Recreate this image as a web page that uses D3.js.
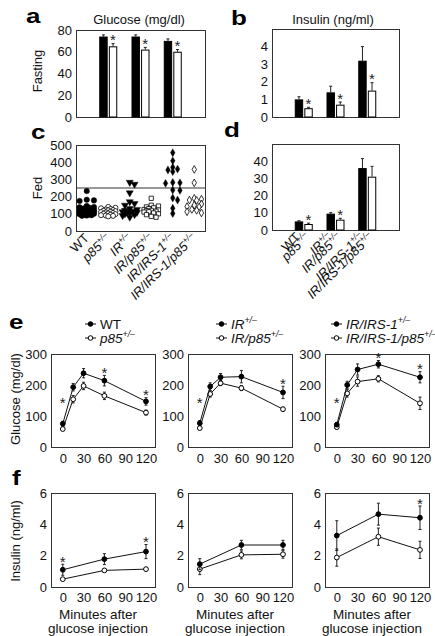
<!DOCTYPE html>
<html><head><meta charset="utf-8">
<script src="https://cdn.jsdelivr.net/npm/d3@7"></script>
<style>
body{margin:0;background:#fff;}
svg{display:block;font-family:"Liberation Sans",Arial,Helvetica,sans-serif;}
</style></head><body>
<svg id="chart" width="435" height="636"></svg>
<script>
// ---------------- DATA ----------------
const barGroups = ["WT", "IR", "IR/IRS-1"];
// a: fasting glucose (mg/dl)
const fastGlucoseDark = [74, 74, 70];
const fastGlucoseDarkErr = [1.5, 1.5, 1.8];
const fastGlucoseLight = [65, 62, 60];
const fastGlucoseLightErr = [2.5, 2, 2];
const fastGlucoseStars = [true, true, true];
const glucoseFastTicks = [0, 20, 40, 60, 80];
// b: fasting insulin (ng/ml)
const fastInsulinDark = [1.0, 1.4, 3.2];
const fastInsulinDarkErr = [0.15, 0.35, 0.8];
const fastInsulinLight = [0.5, 0.7, 1.5];
const fastInsulinLightErr = [0.05, 0.15, 0.45];
const fastInsulinStars = [true, true, true];
const insulinFastTicks = [0, 1, 2, 3, 4];
// c: fed glucose, individual animals (mg/dl)
const genotypeBase = ["WT", "p85", "IR", "IR/p85", "IR/IRS-1", "IR/IRS-1/p85"];
const genotypeSup = ["", "+/–", "+/–", "+/–", "+/–", "+/–"];
const fedGlucoseWT = [232, 182, 178, 175, 145, 140, 138, 135, 132, 130, 128, 126, 124, 122, 120, 118, 116, 115, 113, 112, 110, 108, 106, 105, 103, 102, 100, 98, 96, 94, 92, 90, 88];
const fedGlucoseP85 = [140, 135, 132, 128, 125, 122, 120, 118, 115, 112, 110, 108, 105, 102, 100, 98, 95, 92, 90, 88, 85];
const fedGlucoseIR = [283, 272, 222, 170, 160, 150, 130, 125, 120, 115, 112, 110, 108, 105, 100, 95, 90, 80];
const fedGlucoseIRp85 = [190, 150, 145, 140, 135, 130, 125, 122, 120, 118, 115, 112, 110, 105, 100, 95, 85, 80];
const fedGlucoseIRS = [455, 408, 370, 360, 355, 345, 282, 280, 277, 238, 236, 192, 180, 132, 102];
const fedGlucoseIRSp85 = [358, 280, 190, 185, 180, 178, 157, 150, 142, 140, 125, 120, 112, 105];
const fedThreshold = 250;
const glucoseFedTicks = [0, 100, 200, 300, 400, 500];
// d: fed insulin (ng/ml)
const fedInsulinDark = [5, 9.5, 36];
const fedInsulinDarkErr = [0.4, 0.6, 5.5];
const fedInsulinLight = [3.5, 6, 31];
const fedInsulinLightErr = [0.5, 0.8, 6];
const fedInsulinStars = [true, true, false];
const insulinFedTicks = [0, 10, 20, 30, 40];
// e: glucose tolerance test (mg/dl)
const gttTimes = [0, 15, 30, 60, 120];
const gttWT = [75, 193, 238, 214, 147];          const gttWTErr = [8, 12, 15, 17, 12];
const gttP85 = [58, 154, 197, 165, 111];         const gttP85Err = [5, 12, 12, 12, 8];
const gttIR = [77, 195, 225, 227, 176];          const gttIRErr = [8, 12, 12, 20, 20];
const gttIRp85 = [61, 171, 206, 190, 122];       const gttIRp85Err = [5, 10, 8, 8, 6];
const gttIRS = [72, 200, 250, 267, 225];         const gttIRSErr = [6, 12, 18, 12, 18];
const gttIRSp85 = [64, 173, 211, 220, 141];      const gttIRSp85Err = [5, 12, 15, 10, 20];
const gttStars = [[0, 60, 120], [0, 120], [0, 60, 120]];
const gttTicks = [0, 100, 200, 300];
// f: insulin during GTT (ng/ml)
const insTimes = [0, 60, 120];
const insWT = [1.1, 1.78, 2.26];     const insWTErr = [0.35, 0.35, 0.45];
const insP85 = [0.5, 1.06, 1.14];    const insP85Err = [0.08, 0.1, 0.08];
const insIR = [1.46, 2.68, 2.68];    const insIRErr = [0.35, 0.3, 0.3];
const insIRp85 = [1.14, 2.05, 2.09]; const insIRp85Err = [0.35, 0.25, 0.25];
const insIRS = [3.28, 4.65, 4.42];   const insIRSErr = [0.95, 0.7, 0.75];
const insIRSp85 = [1.88, 3.21, 2.37];const insIRSp85Err = [0.55, 0.55, 0.55];
const insStars = [[0, 120], [], [120]];
const insTicks = [0, 2, 4, 6];
const timeTicks = [0, 30, 60, 90, 120];

// ---------------- DRAWING ----------------
const svg = d3.select("#chart");
const INK = "#111";
const TICK_FS = 13;

function frame(L, T, R, B) {
  svg.append("rect").attr("x", L + 0.5).attr("y", T + 0.5)
    .attr("width", R - L).attr("height", B - T)
    .attr("fill", "none").attr("stroke", "#333").attr("stroke-width", 1);
}
function yAxis(y, L, ticks, pad) {
  const g = svg.append("g").attr("transform", `translate(${L},0)`)
    .call(d3.axisLeft(y).tickValues(ticks).tickFormat(d3.format("d")).tickSize(0).tickPadding(pad || 4));
  g.select(".domain").remove();
  g.selectAll("text").attr("font-size", TICK_FS).attr("fill", INK)
    .style("font-family", "Liberation Sans, Arial, sans-serif");
}
function xAxisTime(x, B, pad) {
  const g = svg.append("g").attr("transform", `translate(0,${B})`)
    .call(d3.axisBottom(x).tickValues(timeTicks).tickFormat(d3.format("d")).tickSize(0).tickPadding(pad));
  g.select(".domain").remove();
  g.selectAll("text").attr("font-size", TICK_FS).attr("fill", INK)
    .style("font-family", "Liberation Sans, Arial, sans-serif");
}
function letter(t, x, y) {
  svg.append("text").attr("transform", `translate(${x},${y}) scale(1.3,1)`)
    .attr("font-size", 20).attr("font-weight", 900).attr("fill", "#000").text(t);
}
function star(x, baseY) {
  svg.append("text").attr("x", x).attr("y", baseY).attr("text-anchor", "middle")
    .attr("font-size", 15).attr("fill", "#222").text("*");
}
function vlabel(t, x, y, fs) {
  svg.append("text").attr("transform", `translate(${x},${y}) rotate(-90)`)
    .attr("text-anchor", "middle").attr("font-size", fs || 13).attr("fill", INK).text(t);
}
function genoText(sel, i, fs) {
  const italic = i > 0;
  sel.append("tspan").attr("font-style", italic ? "italic" : "normal").text(genotypeBase[i]);
  if (genotypeSup[i]) sel.append("tspan").attr("font-style", "italic")
    .attr("font-size", fs * 0.65).attr("dy", -fs * 0.38).text(genotypeSup[i]);
}

// ---- bar panels (a, b, d)
function barPanel(L, T, R, B, max, ticks, dark, darkErr, light, lightErr, stars) {
  frame(L, T, R, B);
  const y = d3.scaleLinear().domain([0, max]).range([B, T]);
  yAxis(y, L, ticks, 4);
  const x0 = d3.scalePoint().domain(barGroups).range([L, R]).padding(1);
  const x1 = d3.scaleBand().domain(["dark", "light"]).range([-9, 9]).paddingInner(0.12);
  const bw = x1.bandwidth();
  const rows = [];
  barGroups.forEach((g, i) => {
    rows.push({g, s: "dark", v: dark[i], e: darkErr[i], star: false, i});
    rows.push({g, s: "light", v: light[i], e: lightErr[i], star: stars[i], i});
  });
  rows.forEach(r => {
    const xl = x0(r.g) + x1(r.s);
    const cx = xl + bw / 2;
    svg.append("line").attr("x1", cx).attr("x2", cx).attr("y1", y(r.v)).attr("y2", y(r.v + r.e))
      .attr("stroke", "#222").attr("stroke-width", 1);
    svg.append("line").attr("x1", cx - 1.5).attr("x2", cx + 1.5).attr("y1", y(r.v + r.e)).attr("y2", y(r.v + r.e))
      .attr("stroke", "#222").attr("stroke-width", 1);
    svg.append("rect").attr("x", xl + 0.5).attr("y", y(r.v) + 0.5).attr("width", bw - 1)
      .attr("height", Math.max(0, B - y(r.v) - 0.5))
      .attr("fill", r.s === "dark" ? "#000" : "#fff").attr("stroke", "#000").attr("stroke-width", 1);
    if (r.star) star(cx, y(r.v + r.e) + 1.5);
  });
  return {x0, x1, bw};
}

// a
letter("a", 26, 23);
svg.append("text").attr("x", 139).attr("y", 24).attr("text-anchor", "middle").attr("font-size", 13).attr("fill", INK).text("Glucose (mg/dl)");
vlabel("Fasting", 42, 71);
barPanel(76, 30, 205, 117, 80, glucoseFastTicks, fastGlucoseDark, fastGlucoseDarkErr, fastGlucoseLight, fastGlucoseLightErr, fastGlucoseStars);

// b
letter("b", 231, 25);
svg.append("text").attr("x", 333).attr("y", 24).attr("text-anchor", "middle").attr("font-size", 13).attr("fill", INK).text("Insulin (ng/ml)");
barPanel(272, 29, 399, 117, 5, insulinFastTicks, fastInsulinDark, fastInsulinDarkErr, fastInsulinLight, fastInsulinLightErr, fastInsulinStars);

// c
letter("c", 31, 139);
vlabel("Fed", 42, 188);
(function () {
  const L = 76, T = 145, R = 205, B = 231;
  frame(L, T, R, B);
  const y = d3.scaleLinear().domain([0, 500]).range([B, T]);
  yAxis(y, L, glucoseFedTicks, 4);
  const xc = d3.scaleBand().domain(genotypeBase).range([L, R]);
  svg.append("line").attr("x1", L).attr("x2", R).attr("y1", y(fedThreshold)).attr("y2", y(fedThreshold))
    .attr("stroke", "#333").attr("stroke-width", 1);
  const groups = [
    {vals: fedGlucoseWT, type: d3.symbolCircle, size: 24, fill: "#000", rot: 0},
    {vals: fedGlucoseP85, type: d3.symbolCircle, size: 20, fill: "#fff", rot: 0},
    {vals: fedGlucoseIR, type: d3.symbolTriangle, size: 22, fill: "#000", rot: 180},
    {vals: fedGlucoseIRp85, type: d3.symbolSquare, size: 18, fill: "#fff", rot: 0},
    {vals: fedGlucoseIRS, type: d3.symbolDiamond, size: 18, fill: "#000", rot: 0},
    {vals: fedGlucoseIRSp85, type: d3.symbolDiamond, size: 17, fill: "#fff", rot: 0}
  ];
  groups.forEach((gr, gi) => {
    const cx = xc(genotypeBase[gi]) + xc.bandwidth() / 2;
    const pts = gr.vals.map(v => ({v, y: y(v)})).sort((a, b) => a.y - b.y);
    const offs = [0];
    for (let k = 1; k * 2.4 <= 9; k++) offs.push(k * 2.4, -k * 2.4);
    const placed = [];
    pts.forEach(p => {
      let best = 0, bestD = -1;
      for (const o of offs) {
        let md = Infinity;
        for (const q of placed) { const d = Math.hypot(q.x - (cx + o), q.y - p.y); if (d < md) md = d; }
        if (md >= 5) { best = o; bestD = md; break; }
        if (md > bestD) { bestD = md; best = o; }
      }
      p.x = cx + best; placed.push(p);
    });
    const sym = d3.symbol().type(gr.type).size(gr.size);
    placed.forEach(p => {
      svg.append("path").attr("d", sym())
        .attr("transform", `translate(${p.x},${p.y}) rotate(${gr.rot})`)
        .attr("fill", gr.fill).attr("stroke", "#000").attr("stroke-width", gr.fill === "#fff" ? 0.8 : 0.4);
    });
  });
  genotypeBase.forEach((g, i) => {
    const cx = xc(g) + xc.bandwidth() / 2;
    const t = svg.append("text").attr("transform", `translate(${cx + 3},${B + 8}) rotate(-45)`)
      .attr("text-anchor", "end").attr("font-size", 13).attr("fill", INK);
    genoText(t, i, 13);
  });
})();

// d
letter("d", 224, 137);
(function () {
  const L = 272, T = 144, R = 399, B = 230;
  const r = barPanel(L, T, R, B, 50, insulinFedTicks, fedInsulinDark, fedInsulinDarkErr, fedInsulinLight, fedInsulinLightErr, fedInsulinStars);
  genotypeBase.forEach((g, i) => {
    const grp = barGroups[Math.floor(i / 2)];
    const cx = r.x0(grp) + r.x1(i % 2 === 0 ? "dark" : "light") + r.bw / 2;
    const t = svg.append("text").attr("transform", `translate(${cx + 2},${B + 8}) rotate(-45)`)
      .attr("text-anchor", "end").attr("font-size", 13).attr("fill", INK);
    genoText(t, i, 13);
  });
})();

// ---- line panels (e, f)
function linePanel(L, T, B, max, ticks, times, dark, darkErr, light, lightErr, stars, t0StarVal, xpad) {
  const R = L + 104;
  frame(L, T, R, B);
  const x = d3.scaleLinear().domain([-17, 133]).range([L, R]);
  const y = d3.scaleLinear().domain([0, max]).range([B, T]);
  yAxis(y, L, ticks, 4);
  xAxisTime(x, B, xpad);
  const line = d3.line().x((d, i) => x(times[i])).y(d => y(d));
  [[light, lightErr, "#fff"], [dark, darkErr, "#000"]].forEach(([vals, errs, fill]) => {
    svg.append("path").attr("d", line(vals)).attr("fill", "none").attr("stroke", "#111").attr("stroke-width", 1);
    vals.forEach((v, i) => {
      const cx = x(times[i]);
      svg.append("line").attr("x1", cx).attr("x2", cx).attr("y1", y(v - errs[i])).attr("y2", y(v + errs[i]))
        .attr("stroke", "#222").attr("stroke-width", 1);
      [v - errs[i], v + errs[i]].forEach(ev => svg.append("line").attr("x1", cx - 1.5).attr("x2", cx + 1.5)
        .attr("y1", y(ev)).attr("y2", y(ev)).attr("stroke", "#222").attr("stroke-width", 1));
    });
    vals.forEach((v, i) => {
      svg.append("circle").attr("cx", x(times[i])).attr("cy", y(v)).attr("r", 2.4)
        .attr("fill", fill).attr("stroke", "#000").attr("stroke-width", 1);
    });
  });
  stars.forEach(t => {
    const i = times.indexOf(t);
    const top = Math.max(dark[i] + darkErr[i], light[i] + lightErr[i]);
    if (t === 0 && t0StarVal != null) star(x(t), y(t0StarVal) + 7.5);
    else star(x(t), y(top) + 2.5);
  });
}

letter("e", 9, 329);
vlabel("Glucose (mg/dl)", 20, 399);
const legendRows = [[0, 1], [2, 3], [4, 5]];
const legendX = [85, 216, 331];
legendRows.forEach((pair, k) => {
  pair.forEach((gi, j) => {
    const cy = 324 + j * 14;
    const lx = legendX[k];
    svg.append("line").attr("x1", lx).attr("x2", lx + 11).attr("y1", cy).attr("y2", cy).attr("stroke", "#111").attr("stroke-width", 1);
    svg.append("circle").attr("cx", lx + 5.5).attr("cy", cy).attr("r", 2.3)
      .attr("fill", j === 0 ? "#000" : "#fff").attr("stroke", "#000").attr("stroke-width", 1);
    const t = svg.append("text").attr("x", lx + 15).attr("y", cy + 4.5).attr("font-size", 13.5).attr("fill", INK);
    genoText(t, gi, 13.5);
  });
});
linePanel(51, 354, 447, 300, gttTicks, gttTimes, gttWT, gttWTErr, gttP85, gttP85Err, gttStars[0], 150, 7);
linePanel(188, 354, 447, 300, gttTicks, gttTimes, gttIR, gttIRErr, gttIRp85, gttIRp85Err, gttStars[1], 150, 7);
linePanel(325, 354, 447, 300, gttTicks, gttTimes, gttIRS, gttIRSErr, gttIRSp85, gttIRSp85Err, gttStars[2], 150, 7);

letter("f", 12, 485);
vlabel("Insulin (ng/ml)", 20, 541);
linePanel(51, 493, 587, 6, insTicks, insTimes, insWT, insWTErr, insP85, insP85Err, insStars[0], null, 6);
linePanel(188, 493, 587, 6, insTicks, insTimes, insIR, insIRErr, insIRp85, insIRp85Err, insStars[1], null, 6);
linePanel(325, 493, 587, 6, insTicks, insTimes, insIRS, insIRSErr, insIRSp85, insIRSp85Err, insStars[2], null, 6);
[51, 188, 325].forEach(L => {
  const cx = L + 47;
  svg.append("text").attr("x", cx).attr("y", 619).attr("text-anchor", "middle").attr("font-size", 13.5).attr("fill", INK).text("Minutes after");
  svg.append("text").attr("x", cx).attr("y", 633).attr("text-anchor", "middle").attr("font-size", 13.5).attr("fill", INK).text("glucose injection");
});
</script>
</body></html>
